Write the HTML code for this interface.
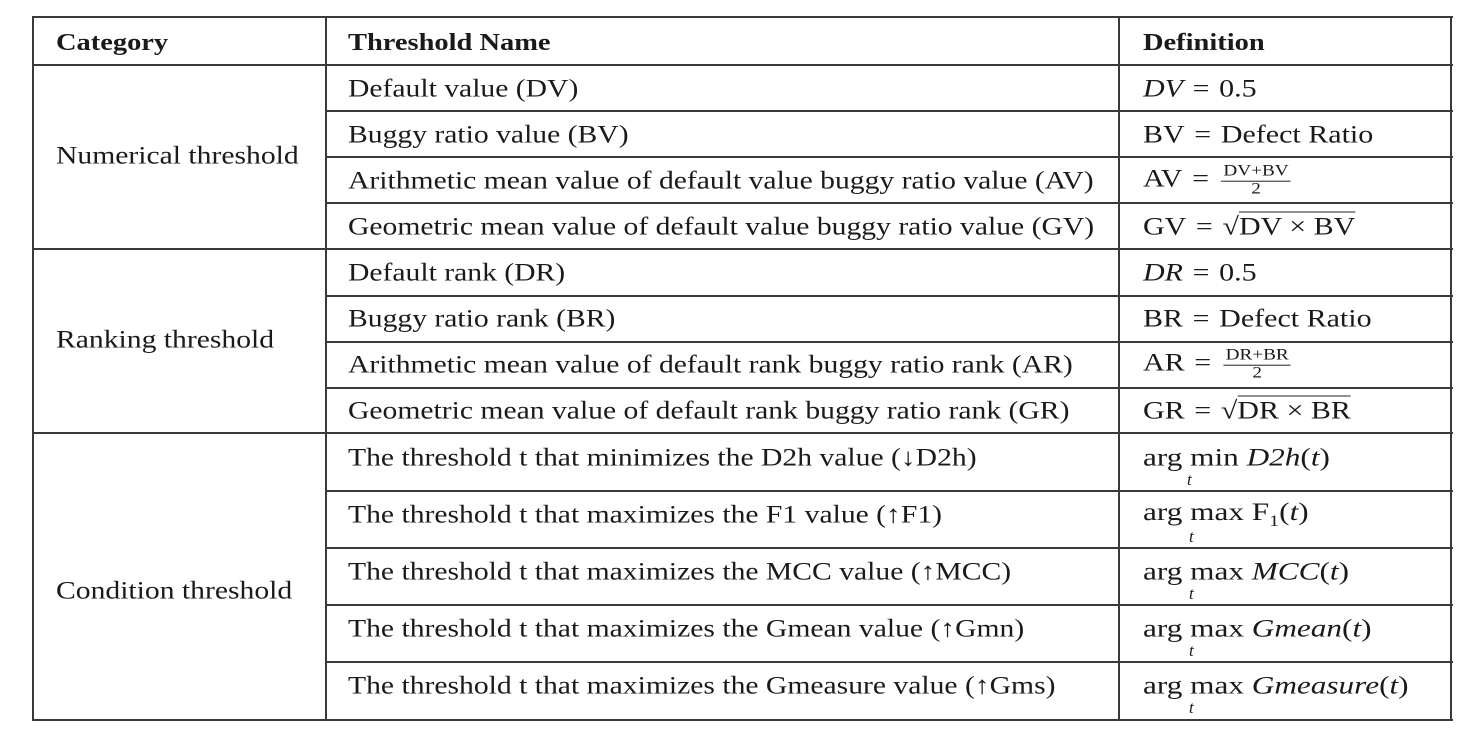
<!DOCTYPE html>
<html><head><meta charset="utf-8"><style>
html,body{margin:0;padding:0;background:#fff;}
#t{position:relative;width:1469px;height:737px;overflow:hidden;font-family:"Liberation Serif",serif;color:#1a1a1a;}
.h{position:absolute;background:#3a3a3a;height:2px;}
.v{position:absolute;background:#3a3a3a;width:2px;}
.c{position:absolute;font-size:25px;white-space:nowrap;transform:translateY(-50%) scaleX(1.185);transform-origin:left center;line-height:1;}
.m{transform:translateY(-50%) scaleX(1.2);}
.a{transform:translateY(-50%) scaleX(1.25);}
.b{font-weight:bold;font-size:24px;}
i{font-style:italic;}
.fr{display:inline-block;vertical-align:middle;text-align:center;font-size:16px;line-height:1.05;margin-left:2px;}
.fr .n{border-bottom:1.5px solid #222;padding:0 2px;display:block;}
.ov{border-top:1.5px solid #222;padding-top:1px;}
.sp{margin:0 8px;}
.sub{position:absolute;font-size:17px;font-style:italic;}
</style></head><body>
<div id="t">
<div class="h" style="left:33px;width:1420px;top:16px"></div>
<div class="h" style="left:33px;width:1420px;top:64px"></div>
<div class="h" style="left:326px;width:1127px;top:110px"></div>
<div class="h" style="left:326px;width:1127px;top:156px"></div>
<div class="h" style="left:326px;width:1127px;top:202px"></div>
<div class="h" style="left:33px;width:1420px;top:248px"></div>
<div class="h" style="left:326px;width:1127px;top:295px"></div>
<div class="h" style="left:326px;width:1127px;top:341px"></div>
<div class="h" style="left:326px;width:1127px;top:387px"></div>
<div class="h" style="left:33px;width:1420px;top:432px"></div>
<div class="h" style="left:326px;width:1127px;top:490px"></div>
<div class="h" style="left:326px;width:1127px;top:547px"></div>
<div class="h" style="left:326px;width:1127px;top:604px"></div>
<div class="h" style="left:326px;width:1127px;top:661px"></div>
<div class="h" style="left:33px;width:1420px;top:719px"></div>
<div class="v" style="left:32px;top:16px;height:705px"></div>
<div class="v" style="left:325px;top:16px;height:705px"></div>
<div class="v" style="left:1118px;top:16px;height:705px"></div>
<div class="v" style="left:1450px;top:16px;height:705px"></div>

<div class="c b" style="left:56px;top:43px">Category</div>
<div class="c b" style="left:348px;top:43px">Threshold Name</div>
<div class="c b" style="left:1143px;top:43px">Definition</div>

<div class="c" style="left:56px;top:156px">Numerical threshold</div>
<div class="c" style="left:56px;top:340px">Ranking threshold</div>
<div class="c" style="left:56px;top:591px">Condition threshold</div>

<div class="c" style="left:348px;top:89px">Default value (DV)</div>
<div class="c" style="left:348px;top:135px">Buggy ratio value (BV)</div>
<div class="c" style="left:348px;top:181px">Arithmetic mean value of default value buggy ratio value (AV)</div>
<div class="c" style="left:348px;top:227px">Geometric mean value of default value buggy ratio value (GV)</div>
<div class="c" style="left:348px;top:273px">Default rank (DR)</div>
<div class="c" style="left:348px;top:319px">Buggy ratio rank (BR)</div>
<div class="c" style="left:348px;top:365px">Arithmetic mean value of default rank buggy ratio rank (AR)</div>
<div class="c" style="left:348px;top:411px">Geometric mean value of default rank buggy ratio rank (GR)</div>
<div class="c" style="left:348px;top:458px">The threshold t that minimizes the D2h value (↓D2h)</div>
<div class="c" style="left:348px;top:515px">The threshold t that maximizes the F1 value (↑F1)</div>
<div class="c" style="left:348px;top:572px">The threshold t that maximizes the MCC value (↑MCC)</div>
<div class="c" style="left:348px;top:629px">The threshold t that maximizes the Gmean value (↑Gmn)</div>
<div class="c" style="left:348px;top:686px">The threshold t that maximizes the Gmeasure value (↑Gms)</div>

<div class="c m" style="left:1143px;top:89px"><i>DV</i><span class="sp">=</span>0.5</div>
<div class="c m" style="left:1143px;top:135px">BV<span class="sp">=</span>Defect Ratio</div>
<div class="c m" style="left:1143px;top:181px">AV<span class="sp">=</span><span class="fr"><span class="n">DV+BV</span>2</span></div>
<div class="c m" style="left:1143px;top:227px">GV<span class="sp">=</span>√<span class="ov">DV × BV</span></div>
<div class="c m" style="left:1143px;top:273px"><i>DR</i><span class="sp">=</span>0.5</div>
<div class="c m" style="left:1143px;top:319px">BR<span class="sp">=</span>Defect Ratio</div>
<div class="c m" style="left:1143px;top:365px">AR<span class="sp">=</span><span class="fr"><span class="n">DR+BR</span>2</span></div>
<div class="c m" style="left:1143px;top:411px">GR<span class="sp">=</span>√<span class="ov">DR × BR</span></div>
<div class="c a" style="left:1143px;top:458px">arg min <i>D2h</i>(<i>t</i>)</div>
<div class="sub" style="left:1187px;top:470px">t</div>
<div class="c a" style="left:1143px;top:515px">arg max F<sub style="font-size:16px">1</sub>(<i>t</i>)</div>
<div class="sub" style="left:1189px;top:527px">t</div>
<div class="c a" style="left:1143px;top:572px">arg max <i>MCC</i>(<i>t</i>)</div>
<div class="sub" style="left:1189px;top:584px">t</div>
<div class="c a" style="left:1143px;top:629px">arg max <i>Gmean</i>(<i>t</i>)</div>
<div class="sub" style="left:1189px;top:641px">t</div>
<div class="c a" style="left:1143px;top:686px">arg max <i>Gmeasure</i>(<i>t</i>)</div>
<div class="sub" style="left:1189px;top:698px">t</div>
</div>
</body></html>
